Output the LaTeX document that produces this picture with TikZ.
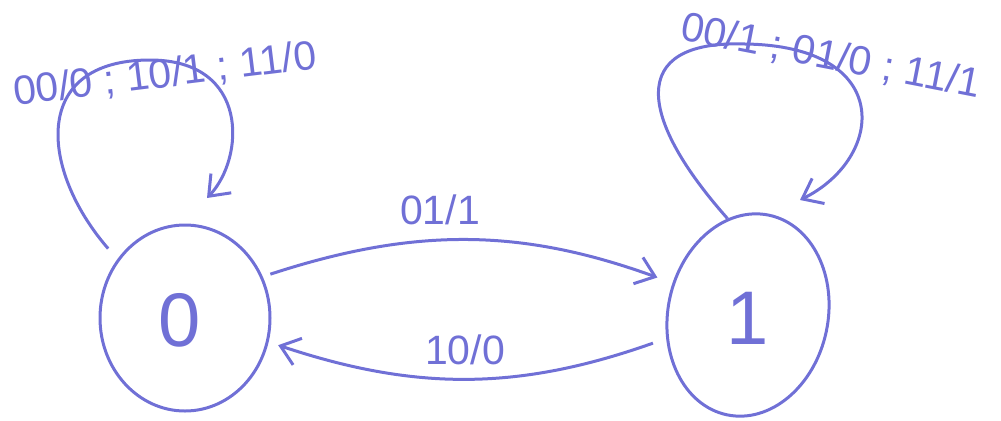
\documentclass[tikz,border=0pt]{standalone}
\usepackage{fontspec}
\setmainfont{Liberation Sans}
\usetikzlibrary{shapes.geometric,arrows.meta,calc}
\definecolor{pen}{RGB}{112,112,214}
\tikzset{
  state/.style={draw=pen,ellipse,line width=1.5pt,inner sep=0pt},
  digit/.style={text=pen,font=\fontsize{38}{40}\selectfont},
  lbl/.style={text=pen,font=\fontsize{20.5}{22}\selectfont,inner sep=0pt},
  edge/.style={draw=pen,line width=1.5pt,-{Straight Barb[length=9pt,width=14pt]}},
}
\begin{document}
\begin{tikzpicture}[x=0.5pt,y=0.5pt]
\useasboundingbox (0,0) rectangle (1001,420);
\node[state,minimum width=85pt,minimum height=93pt] (s0) at (185,102) {};
\node[state,minimum width=80pt,minimum height=102pt,rotate=-12] (s1) at (748,105) {};
\node[digit] (d0) at (180,100) {0};
\node[digit] (d1) at (748,102) {1};
\coordinate (t0) at ($(s0.center)+(22,120)$);
\coordinate (t1) at ($(s1.center)+(52,115)$);
\draw[edge,shorten <=4pt,shorten >=8pt] (s0.28) to[bend left=19] (s1.169);
\draw[edge,shorten <=7pt,shorten >=5pt] (s1.208) to[bend left=19] (s0.-16);
\draw[edge,shorten <=7pt] (s0.139) .. controls (40,250) and (30,360) .. (150,360)
  .. controls (250,360) and (245,262) .. (t0);
\draw[edge] (s1.114) .. controls (640,300) and (625,380) .. (745,376)
  .. controls (895,374) and (885,262) .. (t1);
\node[lbl] (l01) at (440,210) {01/1};
\node[lbl] (l10) at (465,70) {10/0};
\node[lbl,rotate=7] (ll0) at (165,345) {00/0 ; 10/1 ; 11/0};
\node[lbl,rotate=-11] (ll1) at (831,363) {00/1 ; 01/0 ; 11/1};
\end{tikzpicture}
\end{document}
